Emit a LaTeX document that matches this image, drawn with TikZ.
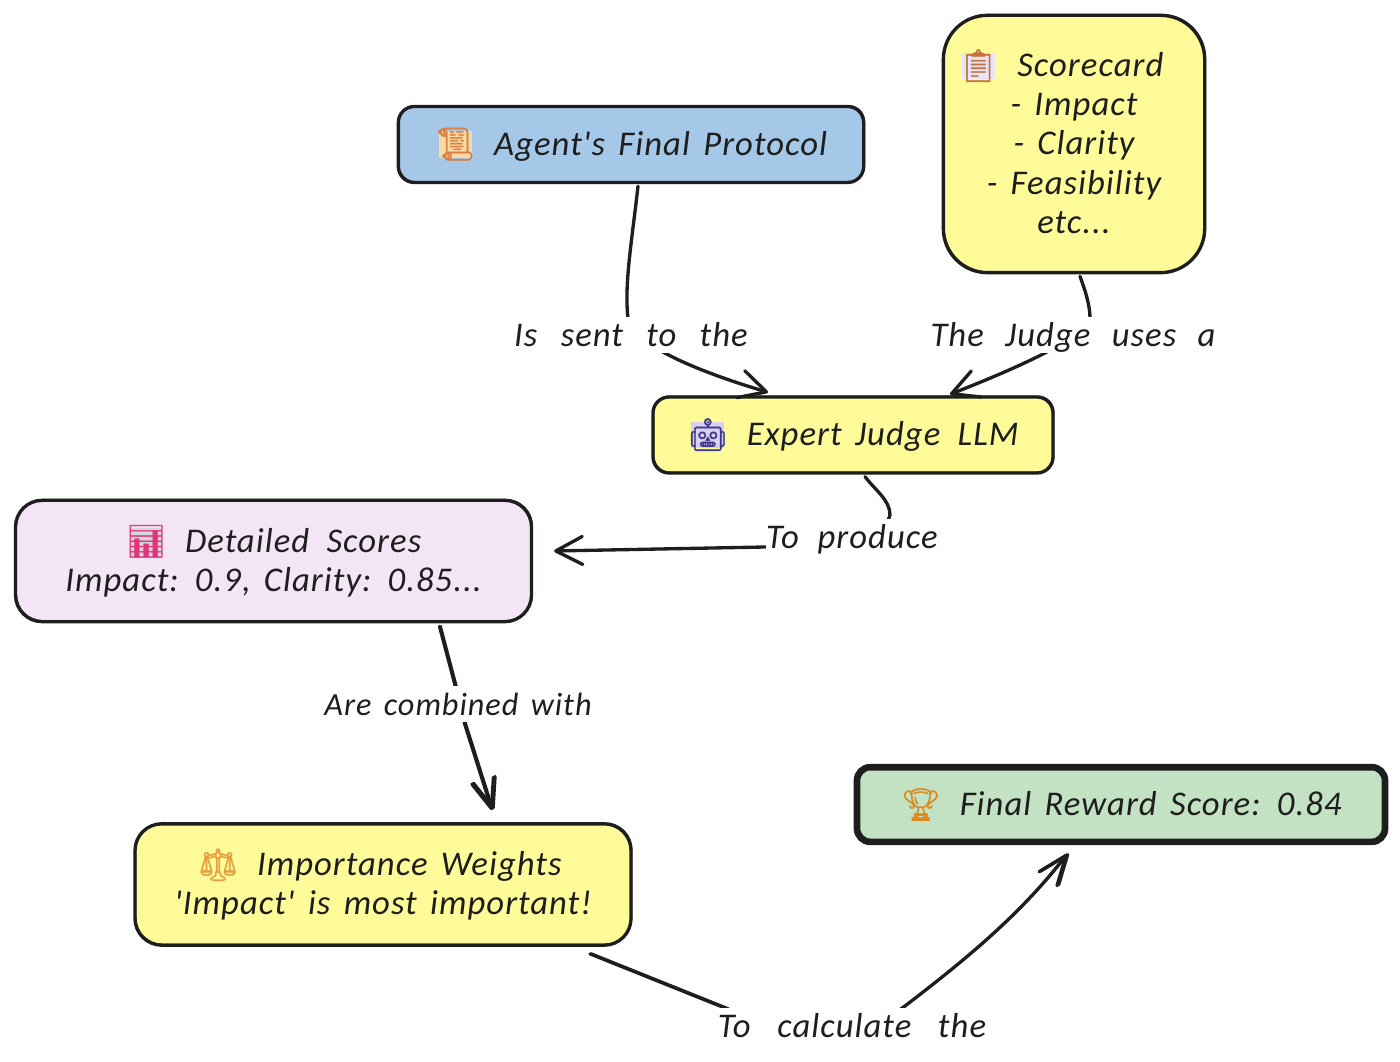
\documentclass[tikz,border=0pt]{standalone}
\usepackage{fontspec}
\setmainfont{Carlito}[Ligatures=TeXOff,LetterSpace=3,WordSpace=1.5]
\newfontfamily\emo{Noto Emoji}[FakeBold=1.2]
\usetikzlibrary{arrows.meta,calc}
\definecolor{ink}{HTML}{1E1E1E}
\definecolor{yel}{HTML}{FEFB98}
\definecolor{blu}{HTML}{A6C8E8}
\definecolor{pur}{HTML}{F3E5F5}
\definecolor{grn}{HTML}{C3E2C3}
% #1 glyph colour, #2 tint behind the glyph, #3 glyph
\newcommand{\ico}[3]{\sbox0{\emo\fontsize{24}{29}\selectfont\color[HTML]{#1}#3}%
  \rlap{\hspace{3pt}\color[HTML]{#2}\rule[-2pt]{\dimexpr\wd0-6pt\relax}{20pt}}%
  \usebox0\hspace{14pt}}
\newcommand{\icn}[2]{{\emo\fontsize{24}{29}\selectfont\color[HTML]{#1}#2}\hspace{14pt}}
\newcommand{\wg}[1]{\hspace{#1}}
\tikzset{
 txt/.style={font=\itshape\fontsize{26}{29.4}\selectfont,text=ink,align=center,inner sep=0pt},
 boxn/.style={txt,draw=ink,line width=2.5pt,
   postaction={draw=ink,line width=1pt,transform canvas={xshift=0.6pt,yshift=0.6pt}}},
 lbl/.style={txt,fill=white,minimum height=27.5pt,text height=21.3pt,text depth=3.7pt},
 conn/.style={draw=ink,line width=2.5pt,line cap=round},
 sketch/.style={postaction={draw=ink,line width=1pt,transform canvas={xshift=1.2pt,yshift=0.6pt}}},
 tip/.style={-{Straight Barb[length=20pt,width=21pt,line width=2.5pt,round]}},
 tipn/.style={-{Straight Barb[length=22pt,width=17pt,line width=2.5pt,round]}}
}
\begin{document}
\begin{tikzpicture}[x=0.75pt,y=-0.75pt]
\useasboundingbox (0,0) rectangle (1400,1062);
% nodes
\node[boxn,fill=blu,rounded corners=12pt,minimum width=349pt,minimum height=57pt] (proto) at (631,144.5)
  {\ico{D9803F}{FAD9A8}{📜}Agent's Final Protocol};
\node[boxn,fill=yel,rounded corners=33pt,minimum width=196pt,minimum height=193pt] (score) at (1074,144)
  {\ico{C4743E}{E9E4F5}{📋}Scorecard\hspace*{20pt}\\- Impact\\- Clarity\\- Feasibility\\etc...\rule[-4pt]{0pt}{0pt}};
\node[boxn,fill=yel,rounded corners=12pt,minimum width=300pt,minimum height=57pt] (judge) at (853,435)
  {\ico{3F3A8C}{D9D0F0}{🤖}Expert Judge\wg{3pt} LLM};
\node[boxn,fill=pur,rounded corners=20pt,minimum width=387pt,minimum height=91pt] (detail) at (273.5,561)
  {\ico{E0357A}{D5D5DE}{📊}Detailed\wg{3pt} Scores\\Impact: 0.9, Clarity: 0.85...};
\node[boxn,fill=yel,rounded corners=20pt,minimum width=372pt,minimum height=91pt] (weights) at (383,884.5)
  {\icn{E8A040}{⚖}Importance Weights\hspace*{5pt}\\'Impact' is most important!};
\node[txt,draw=ink,line width=5pt,fill=grn,rounded corners=10pt,minimum width=396pt,minimum height=56pt] (final) at (1121,804.5)
  {\icn{D98A20}{🏆}Final Reward Score: 0.84};
% connector ends on the nodes
\coordinate (a1) at ($(proto.south)+(7,2)$);
\coordinate (a2) at ($(judge.north)+(-85,-3)$);
\coordinate (b1) at ($(score.south)+(6,2)$);
\coordinate (b2) at ($(judge.north)+(97,-1)$);
\coordinate (c1) at ($(judge.south)+(12,2)$);
\coordinate (c2) at ($(detail.east)+(21,-10)$);
\coordinate (d1) at ($(detail.south)+(166,3)$);
\coordinate (d2) at ($(weights.north)+(109,-12)$);
\coordinate (e1) at ($(weights.south)+(207,7)$);
\coordinate (e2) at ($(final.south)+(-54,9)$);
% connectors
\draw[conn,tip] (a1) .. controls (632,240) and (624,285) .. (628,318)
   .. controls (632,345) and (700,372) .. (a2);
\draw[conn,tip] (b1) .. controls (1085,290) and (1090,305) .. (1090,318)
   .. controls (1090,335) and (1020,367) .. (b2);
\draw[conn,tip] (c1) .. controls (875,490) and (890,500) .. (890,515)
   .. controls (885,540) and (820,545) .. (765,547) -- (c2);
\draw[conn,tipn,sketch] (d1) -- (455,685) -- (465,725) -- (d2);
\draw[conn,tipn,sketch] (e1) -- (725,1008) .. controls (780,1035) and (860,1040) .. (905,1006)
   .. controls (965,960) and (1020,915) .. (e2);
% edge labels
\node[lbl] (l1) at (631,335) {Is\wg{7.5pt} sent\wg{7.5pt} to\wg{7.5pt} the};
\node[lbl] (l2) at (1073,335) {The\wg{6pt} Judge\wg{6pt} uses\wg{6pt} a};
\node[lbl] (l3) at (852,537) {To\wg{4pt} produce};
\node[lbl,font=\itshape\fontsize{24.2}{29.4}\selectfont] (l4) at (458,704) {Are combined with};
\node[lbl] (l5) at (852,1026) {To\wg{10pt} calculate\wg{10pt} the};
\end{tikzpicture}
\end{document}
